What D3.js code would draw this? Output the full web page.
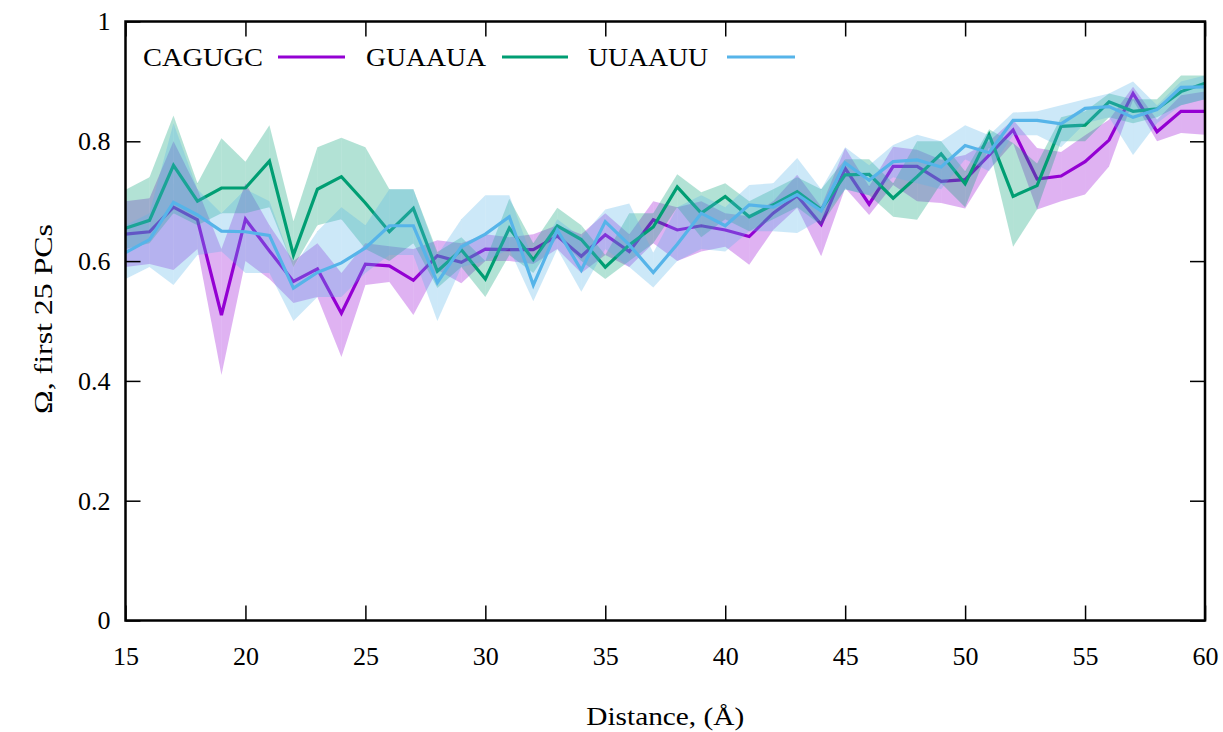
<!DOCTYPE html>
<html>
<head>
<meta charset="utf-8">
<script src="https://cdn.jsdelivr.net/npm/d3@7"></script>
<style>
  body { margin: 0; background: #fff; }
  text { font-family: "Liberation Serif", "Times New Roman", serif; fill: #000; }
</style>
</head>
<body>
<div class="chart"></div>
<script>
// Data (distance in Å, overlap Ω with mean and lower/upper band)
var distances = [15, 16, 17, 18, 19, 20, 21, 22, 23, 24, 25, 26, 27, 28, 29, 30, 31, 32, 33, 34, 35, 36, 37,
  38, 39, 40, 41, 42, 43, 44, 45, 46, 47, 48, 49, 50, 51, 52, 53, 54, 55, 56, 57, 58, 59, 60];

var seriesNames = ["CAGUGC", "GUAAUA", "UUAAUU"];

var cagugcMean = [0.645, 0.649, 0.690, 0.669, 0.510, 0.670, 0.617, 0.566, 0.587, 0.513, 0.595, 0.592, 0.568,
  0.609, 0.598, 0.620, 0.619, 0.619, 0.642, 0.608, 0.644, 0.616, 0.669, 0.652, 0.659, 0.652, 0.641, 0.680,
  0.709, 0.661, 0.755, 0.695, 0.758, 0.758, 0.733, 0.736, 0.777, 0.819, 0.737, 0.742, 0.766, 0.802, 0.880,
  0.816, 0.850, 0.850];
var cagugcLow = [0.590, 0.595, 0.585, 0.620, 0.410, 0.600, 0.570, 0.530, 0.540, 0.440, 0.560, 0.565, 0.510,
  0.585, 0.563, 0.600, 0.600, 0.595, 0.620, 0.580, 0.610, 0.590, 0.630, 0.600, 0.616, 0.624, 0.594, 0.652,
  0.689, 0.608, 0.722, 0.677, 0.727, 0.700, 0.697, 0.688, 0.752, 0.797, 0.686, 0.700, 0.711, 0.758, 0.869,
  0.800, 0.814, 0.811];
var cagugcHigh = [0.700, 0.705, 0.800, 0.720, 0.620, 0.730, 0.660, 0.600, 0.630, 0.580, 0.630, 0.625, 0.620,
  0.635, 0.630, 0.645, 0.640, 0.645, 0.660, 0.645, 0.680, 0.645, 0.700, 0.690, 0.700, 0.680, 0.675, 0.700,
  0.744, 0.691, 0.789, 0.725, 0.791, 0.786, 0.769, 0.777, 0.800, 0.836, 0.789, 0.782, 0.810, 0.836, 0.891,
  0.836, 0.877, 0.883];

var guaauaMean = [0.655, 0.668, 0.760, 0.700, 0.722, 0.722, 0.767, 0.610, 0.720, 0.741, 0.697, 0.649, 0.688,
  0.583, 0.619, 0.570, 0.655, 0.602, 0.659, 0.636, 0.590, 0.627, 0.657, 0.724, 0.680, 0.708, 0.674, 0.694,
  0.716, 0.686, 0.744, 0.745, 0.705, 0.741, 0.779, 0.729, 0.811, 0.708, 0.726, 0.825, 0.827, 0.866, 0.850,
  0.854, 0.883, 0.897];
var guaauaLow = [0.620, 0.630, 0.680, 0.660, 0.680, 0.680, 0.690, 0.590, 0.660, 0.670, 0.620, 0.600, 0.630,
  0.555, 0.590, 0.540, 0.610, 0.580, 0.640, 0.600, 0.570, 0.600, 0.630, 0.690, 0.640, 0.670, 0.650, 0.670,
  0.690, 0.660, 0.720, 0.710, 0.674, 0.669, 0.730, 0.690, 0.790, 0.624, 0.686, 0.800, 0.800, 0.840, 0.830,
  0.840, 0.860, 0.870];
var guaauaHigh = [0.719, 0.740, 0.843, 0.730, 0.805, 0.766, 0.827, 0.666, 0.790, 0.806, 0.790, 0.720, 0.720,
  0.615, 0.640, 0.600, 0.704, 0.630, 0.689, 0.660, 0.610, 0.680, 0.680, 0.745, 0.715, 0.730, 0.700, 0.720,
  0.740, 0.720, 0.770, 0.770, 0.730, 0.800, 0.800, 0.750, 0.820, 0.797, 0.763, 0.840, 0.850, 0.880, 0.870,
  0.870, 0.910, 0.910];

var uuaauuMean = [0.614, 0.636, 0.698, 0.677, 0.650, 0.649, 0.643, 0.555, 0.581, 0.597, 0.622, 0.659, 0.659,
  0.564, 0.624, 0.645, 0.674, 0.560, 0.652, 0.585, 0.666, 0.627, 0.581, 0.628, 0.680, 0.659, 0.694, 0.690,
  0.711, 0.684, 0.764, 0.735, 0.766, 0.769, 0.757, 0.793, 0.781, 0.835, 0.835, 0.829, 0.855, 0.858, 0.840,
  0.853, 0.890, 0.891];
var uuaauuLow = [0.570, 0.590, 0.560, 0.610, 0.616, 0.580, 0.580, 0.500, 0.540, 0.540, 0.580, 0.610, 0.610,
  0.500, 0.590, 0.600, 0.620, 0.533, 0.620, 0.549, 0.620, 0.590, 0.556, 0.600, 0.620, 0.616, 0.650, 0.650,
  0.647, 0.670, 0.720, 0.710, 0.740, 0.730, 0.720, 0.770, 0.750, 0.810, 0.810, 0.790, 0.830, 0.840, 0.777,
  0.830, 0.860, 0.870];
var uuaauuHigh = [0.660, 0.680, 0.830, 0.720, 0.680, 0.720, 0.700, 0.590, 0.650, 0.690, 0.660, 0.720, 0.720,
  0.610, 0.670, 0.710, 0.710, 0.600, 0.670, 0.640, 0.686, 0.696, 0.614, 0.690, 0.710, 0.690, 0.727, 0.730,
  0.772, 0.720, 0.790, 0.760, 0.794, 0.811, 0.800, 0.827, 0.810, 0.848, 0.850, 0.860, 0.870, 0.880, 0.900,
  0.860, 0.900, 0.910];

var xTicks = [15, 20, 25, 30, 35, 40, 45, 50, 55, 60];
var yTicks = [0, 0.2, 0.4, 0.6, 0.8, 1];
var colors = ["#9400d3", "#009e73", "#56b4e9"];

var svgWidth = 1223;
var svgHeight = 732;

var margin = {
  top: 21.5,
  right: 18,
  bottom: 111.5,
  left: 125.5
};

var width = svgWidth - margin.left - margin.right;
var height = svgHeight - margin.top - margin.bottom;

var svg = d3.select(".chart")
  .append("svg")
  .attr("width", svgWidth)
  .attr("height", svgHeight);

var chartGroup = svg.append("g")
  .attr("transform", `translate(${margin.left}, ${margin.top})`);

// Scales
var xScale = d3.scaleLinear().domain([15, 60]).range([0, width]);
var yScale = d3.scaleLinear().domain([0, 1]).range([height, 0]);

// Build one table per series
var series = [
  { name: seriesNames[0], mean: cagugcMean, low: cagugcLow, high: cagugcHigh, color: colors[0] },
  { name: seriesNames[1], mean: guaauaMean, low: guaauaLow, high: guaauaHigh, color: colors[1] },
  { name: seriesNames[2], mean: uuaauuMean, low: uuaauuLow, high: uuaauuHigh, color: colors[2] }
].map(function (s) {
  s.points = distances.map(function (d, i) {
    return { x: d, y: s.mean[i], lo: s.low[i], hi: s.high[i] };
  });
  return s;
});

var area = d3.area()
  .x(d => xScale(d.x))
  .y0(d => yScale(d.lo))
  .y1(d => yScale(d.hi));

var line = d3.line()
  .x(d => xScale(d.x))
  .y(d => yScale(d.y));

// Bands (drawn one segment at a time, like the original) and lines, series by series
series.forEach(function (s) {
  var segs = d3.pairs(s.points);
  chartGroup.append("g")
    .selectAll("path")
    .data(segs)
    .enter()
    .append("path")
    .attr("d", d => area(d))
    .attr("fill", s.color)
    .attr("fill-opacity", 0.3);

  chartGroup.append("path")
    .datum(s.points)
    .attr("d", line)
    .attr("fill", "none")
    .attr("stroke", s.color)
    .attr("stroke-width", 3.2);
});

// Axes: ticks pointing inward on all four sides
var tickLen = 15;

var bottomAxis = d3.axisBottom(xScale).tickValues(xTicks).tickSizeInner(-tickLen).tickSizeOuter(0).tickPadding(26);
var topAxis = d3.axisTop(xScale).tickValues(xTicks).tickSizeInner(-tickLen).tickSizeOuter(0).tickFormat("");
var leftAxis = d3.axisLeft(yScale).tickValues(yTicks).tickSizeInner(-tickLen).tickSizeOuter(0).tickPadding(15)
  .tickFormat(d3.format("~g"));
var rightAxis = d3.axisRight(yScale).tickValues(yTicks).tickSizeInner(-tickLen).tickSizeOuter(0).tickFormat("");

chartGroup.append("g").attr("class", "axis").attr("transform", `translate(0, ${height})`).call(bottomAxis);
chartGroup.append("g").attr("class", "axis").call(topAxis);
chartGroup.append("g").attr("class", "axis").call(leftAxis);
chartGroup.append("g").attr("class", "axis").attr("transform", `translate(${width}, 0)`).call(rightAxis);

chartGroup.selectAll(".axis .domain").remove();
chartGroup.selectAll(".axis line").attr("stroke", "#000").attr("stroke-width", 1.5);
chartGroup.selectAll(".axis text")
  .style("font-family", "'Liberation Serif', serif")
  .style("font-size", "26px")
  .attr("fill", "#000");

// Frame
chartGroup.append("rect")
  .attr("width", width)
  .attr("height", height)
  .attr("fill", "none")
  .attr("stroke", "#000")
  .attr("stroke-width", 2.5);

// Legend across the top
var legendPos = [
  { tx: 143, lx1: 278, lx2: 345 },
  { tx: 366, lx1: 502, lx2: 568 },
  { tx: 588, lx1: 727, lx2: 795 }
];
series.forEach(function (s, i) {
  svg.append("text")
    .attr("x", legendPos[i].tx)
    .attr("y", 66)
    .attr("textLength", 120)
    .attr("lengthAdjust", "spacingAndGlyphs")
    .style("font-size", "26px")
    .text(s.name);
  svg.append("line")
    .attr("x1", legendPos[i].lx1)
    .attr("x2", legendPos[i].lx2)
    .attr("y1", 57)
    .attr("y2", 57)
    .attr("stroke", s.color)
    .attr("stroke-width", 3.2);
});

// Axis titles
svg.append("text")
  .attr("transform", `translate(52, ${margin.top + height / 2 - 2}) rotate(-90)`)
  .attr("text-anchor", "middle")
  .attr("textLength", 190)
  .attr("lengthAdjust", "spacingAndGlyphs")
  .style("font-size", "26px")
  .text("Ω, first 25 PCs");

svg.append("text")
  .attr("x", margin.left + width / 2)
  .attr("y", 725)
  .attr("text-anchor", "middle")
  .attr("textLength", 158)
  .attr("lengthAdjust", "spacingAndGlyphs")
  .style("font-size", "26px")
  .text("Distance, (Å)");
</script>
</body>
</html>
